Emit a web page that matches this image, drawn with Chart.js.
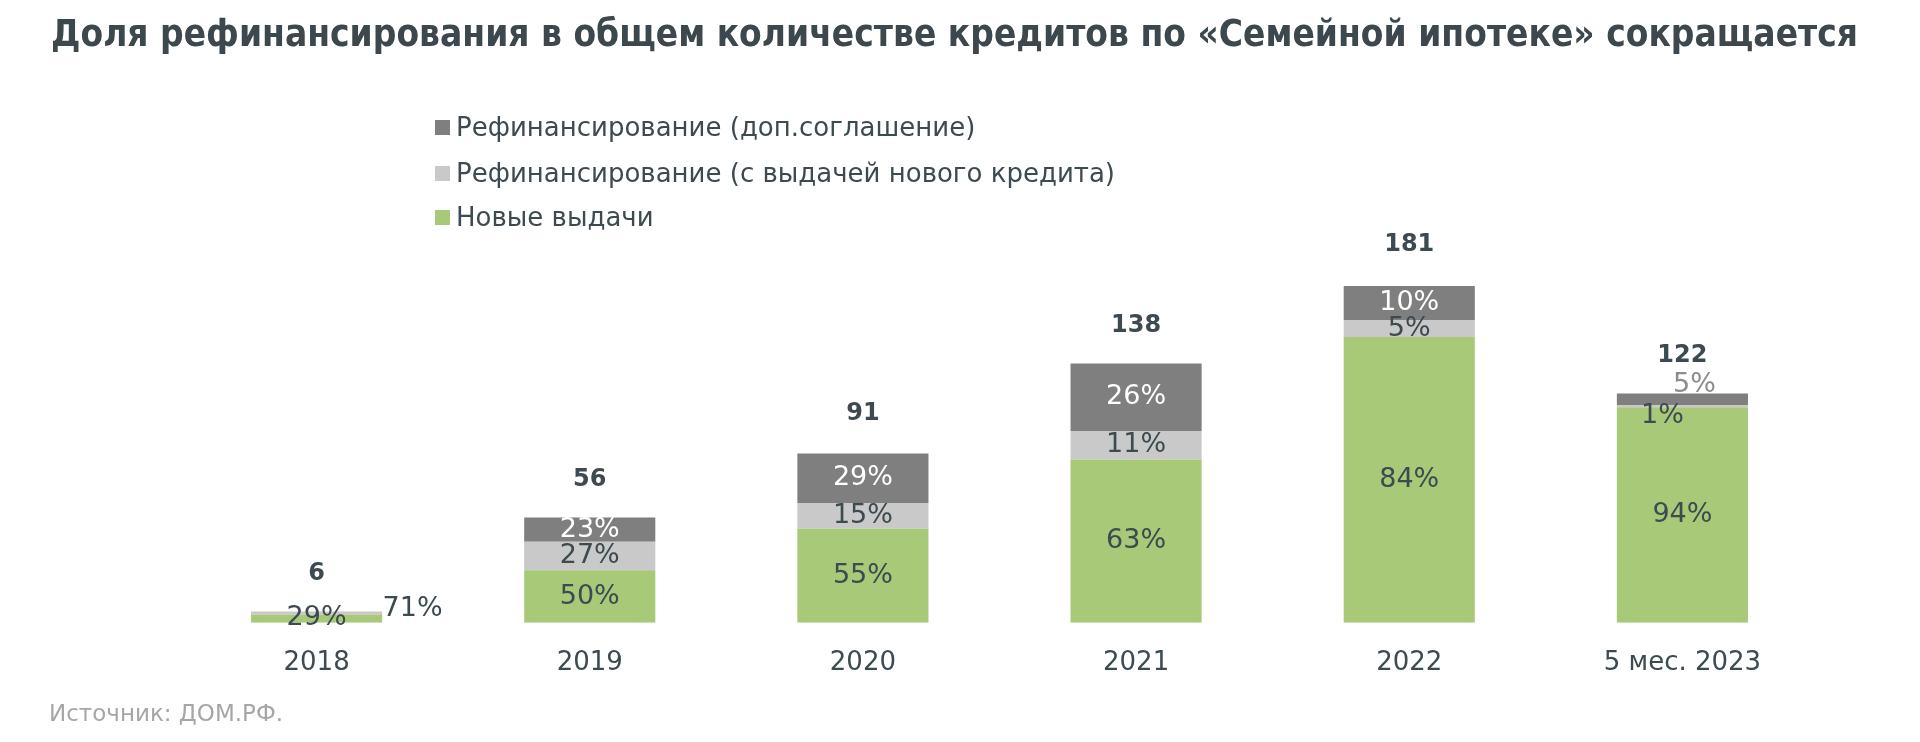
<!DOCTYPE html>
<html lang="ru">

<head>
    <meta charset="UTF-8">
    <title>Семейная ипотека</title>
    <script src="https://cdn.jsdelivr.net/npm/chart.js"></script>
    <style>
        body {
            margin: 0;
            padding: 0;
            background-color: #ffffff;
            width: 1920px;
            height: 742px;
            overflow: hidden;
            font-family: "DejaVu Sans", sans-serif;
        }

        .wrap {
            position: absolute;
            left: 0;
            top: 0;
            width: 1920px;
            height: 742px;
        }

        .title {
            position: absolute;
            left: 51px;
            top: 15px;
            margin: 0;
            font-family: "DejaVu Sans Condensed", "DejaVu Sans", sans-serif;
            font-weight: bold;
            font-size: 37px;
            line-height: 37px;
            color: #3c484d;
            white-space: nowrap;
            transform-origin: 0 0;
        }

        .legend {
            position: absolute;
            left: 435px;
            top: 0;
        }

        .legend-row {
            position: absolute;
            left: 0;
            height: 30px;
            display: flex;
            align-items: center;
            white-space: nowrap;
            font-size: 26px;
            color: #3d4a50;
        }

        .legend-box {
            width: 15px;
            height: 15px;
            margin-right: 6px;
        }

        .source {
            position: absolute;
            left: 49px;
            top: 700px;
            font-size: 23px;
            line-height: 26px;
            color: #a6a6a6;
        }
    </style>
</head>

<body>
    <div class="wrap">
        <canvas id="myChart"></canvas>
    </div>
    <h1 class="title" id="title">Доля рефинансирования в общем количестве кредитов по «Семейной ипотеке» сокращается</h1>
    <div class="legend" id="legend"></div>
    <div class="source">Источник: ДОМ.РФ.</div>

    <script>
        // Данные (тыс. кредитов и доли в %)
        const categories = ['2018', '2019', '2020', '2021', '2022', '5 мес. 2023'];
        const totals = [6, 56, 91, 138, 181, 122];
        const shareNew = [71, 50, 55, 63, 84, 94];
        const shareRefiNew = [29, 27, 15, 11, 5, 1];
        const shareRefiAgreement = [0, 23, 29, 26, 10, 5];
        const seriesNames = ['Новые выдачи', 'Рефинансирование (с выдачей нового кредита)', 'Рефинансирование (доп.соглашение)'];
        const seriesColors = ['#a8c978', '#c9c9c9', '#7f7f7f'];

        const shares = [shareNew, shareRefiNew, shareRefiAgreement];
        const textColor = '#3d4a50';

        // подгоняем ширину заголовка
        const title = document.getElementById('title');
        const titleWidth = title.getBoundingClientRect().width;
        title.style.transform = 'scaleX(' + (1807 / titleWidth) + ')';

        // легенда сверху вниз: доп.соглашение, с выдачей, новые
        const legend = document.getElementById('legend');
        const rowCenters = [127, 173, 217];
        for (let k = 0; k < 3; k++) {
            const i = 2 - k;
            const row = document.createElement('div');
            row.className = 'legend-row';
            row.style.top = (rowCenters[k] - 15) + 'px';
            const box = document.createElement('span');
            box.className = 'legend-box';
            box.style.backgroundColor = seriesColors[i];
            const txt = document.createElement('span');
            txt.textContent = seriesNames[i];
            row.appendChild(box);
            row.appendChild(txt);
            legend.appendChild(row);
        }

        // сдвиги подписей для маленьких сегментов: "датасет-индекс"
        const labelShift = {
            '0-0': { dx: 96, dy: -10 },
            '1-0': { dx: 0, dy: 5 },
            '1-5': { dx: -20, dy: 10 },
            '2-5': { dx: 12, dy: -14, color: '#8c8c8c' }
        };

        const labelsPlugin = {
            id: 'barLabels',
            afterDatasetsDraw(chart) {
                const ctx = chart.ctx;
                ctx.save();
                ctx.textAlign = 'center';
                ctx.textBaseline = 'middle';
                ctx.font = '27px "DejaVu Sans"';
                chart.data.datasets.forEach((ds, di) => {
                    const meta = chart.getDatasetMeta(di);
                    meta.data.forEach((bar, j) => {
                        const pct = shares[di][j];
                        if (!pct) return;
                        const shift = labelShift[di + '-' + j] || { dx: 0, dy: 0 };
                        ctx.fillStyle = shift.color || (di === 2 ? '#ffffff' : textColor);
                        const cy = (bar.y + bar.base) / 2;
                        ctx.fillText(pct + '%', bar.x + shift.dx, cy + shift.dy);
                    });
                });

                // итоги над столбцами
                ctx.font = 'bold 24px "DejaVu Sans"';
                ctx.fillStyle = textColor;
                const yScale = chart.scales.y;
                const xScale = chart.scales.x;
                totals.forEach((t, j) => {
                    const x = xScale.getPixelForValue(j);
                    const y = yScale.getPixelForValue(t);
                    ctx.fillText(String(t), x, y - 38);
                });
                ctx.restore();
            }
        };

        function createChart() {
            const ctx = document.getElementById('myChart').getContext('2d');
            const datasets = seriesNames.map((name, i) => ({
                label: name,
                data: totals.map((t, j) => t * shares[i][j] / 100),
                backgroundColor: seriesColors[i],
                borderWidth: 0,
                categoryPercentage: 1,
                barPercentage: 0.48
            }));

            new Chart(ctx, {
                type: 'bar',
                data: {
                    labels: categories,
                    datasets: datasets
                },
                options: {
                    responsive: true,
                    maintainAspectRatio: false,
                    animation: false,
                    layout: {
                        padding: { left: 180, right: 101, top: 247, bottom: 38 }
                    },
                    plugins: {
                        legend: { display: false },
                        tooltip: { enabled: false }
                    },
                    scales: {
                        x: {
                            stacked: true,
                            grid: { display: false, drawTicks: false },
                            border: { display: false },
                            ticks: {
                                color: textColor,
                                padding: 25,
                                font: { family: 'DejaVu Sans', size: 26 }
                            }
                        },
                        y: {
                            stacked: true,
                            display: false,
                            min: 0,
                            max: 200
                        }
                    }
                },
                plugins: [labelsPlugin]
            });
        }

        createChart();
    </script>
</body>

</html>
